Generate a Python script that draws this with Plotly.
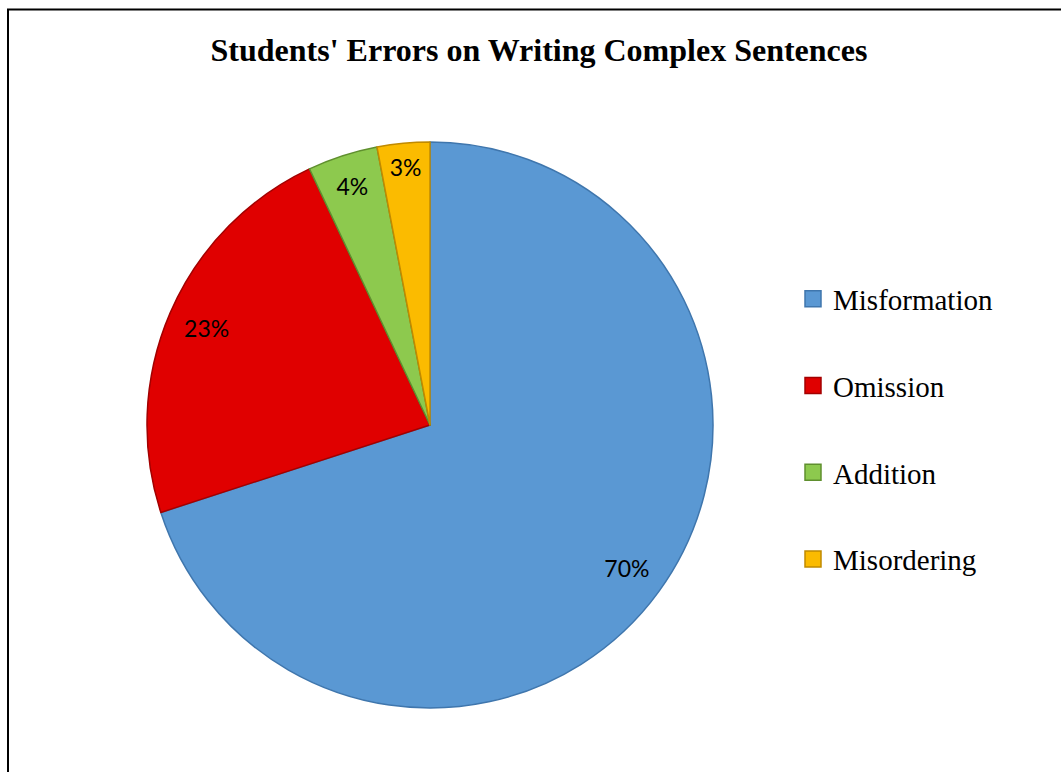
import plotly.graph_objects as go

# ---- data ----
categories = ["Misformation", "Omission", "Addition", "Misordering"]
values = [70, 23, 4, 3]
slice_colors = ["#5A98D3", "#E00000", "#8DC94E", "#FBBB00"]
edge_colors = ["#3F76AD", "#A30000", "#5F8F2E", "#C08A00"]
title_text = "Students' Errors on Writing Complex Sentences"

W, H = 1061, 772
cx, cy, R = 430, 425, 283  # pie centre / radius in pixels

dom_x = [(cx - R) / W, (cx + R) / W]
dom_y = [(H - cy - R) / H, (H - cy + R) / H]

fig = go.Figure()

# main solid pie
fig.add_trace(go.Pie(
    labels=categories, values=values, sort=False, direction="clockwise",
    rotation=0, domain=dict(x=dom_x, y=dom_y),
    marker=dict(colors=slice_colors, line=dict(color=edge_colors, width=1.5)),
    textinfo="none", hoverinfo="label+percent", showlegend=False,
))

# transparent ring overlay to place percentage labels near the rim
fig.add_trace(go.Pie(
    labels=categories, values=values, sort=False, direction="clockwise",
    rotation=0, domain=dict(x=dom_x, y=dom_y), hole=0.72,
    marker=dict(colors=["rgba(0,0,0,0)"] * len(values), line=dict(width=0)),
    textinfo="percent", texttemplate="%{percent:.0%}", textposition="inside",
    insidetextorientation="horizontal",
    insidetextfont=dict(family="Lato", size=23, color="#000000"),
    hoverinfo="skip", showlegend=False,
))

# legend entries
for name, col, ec in zip(categories, slice_colors, edge_colors):
    fig.add_trace(go.Scatter(
        x=[None], y=[None], mode="markers", name=name, legendgroup=name,
        marker=dict(symbol="square", size=18, color=col, line=dict(color=ec, width=1.5)),
    ))

fig.update_layout(
    width=W, height=H,
    margin=dict(l=0, r=0, t=0, b=0),
    paper_bgcolor="white", plot_bgcolor="white",
    xaxis=dict(visible=False), yaxis=dict(visible=False),
    title=dict(text=title_text, x=539 / W, xanchor="center", y=1 - 50 / H, yanchor="middle",
               xref="container", yref="container",
               font=dict(family="Liberation Serif", size=32, color="black", weight="bold")),
    legend=dict(x=793 / W, xanchor="left", y=1 - 429 / H, yanchor="middle",
                font=dict(family="Liberation Serif", size=29, color="black"),
                tracegroupgap=46, bgcolor="rgba(0,0,0,0)"),
    shapes=[dict(type="rect", xref="paper", yref="paper",
                 x0=8 / W, x1=1.05, y0=-0.05, y1=1 - 9.5 / H,
                 line=dict(color="black", width=2), fillcolor="rgba(0,0,0,0)", layer="above")],
)

fig.write_html("out.html")
